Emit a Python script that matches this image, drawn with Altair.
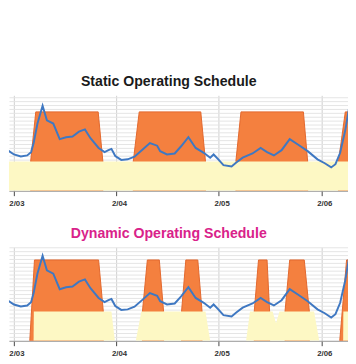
import altair as alt
import pandas as pd

BASE = pd.Timestamp("2011-02-03 00:00")

# Blue load line: hours after 2/03 00:00 and height
line_hours = [-2.9, -1.4, 0.1, 1.7, 3.2, 4.1, 4.7, 5.6, 6.8, 7.8, 9.3, 10.8, 12.3, 13.8, 15.3,
              16.7, 18.0, 19.9, 21.3, 22.2, 22.9, 23.8, 25.2, 26.7, 28.3, 30.2, 31.9, 33.6, 34.3,
              35.9, 37.7, 39.2, 40.9, 42.6, 44.5, 46.0, 46.8, 47.9, 49.1, 51.0, 52.1, 53.6, 55.9,
              57.8, 59.3, 60.9, 62.7, 64.6, 66.6, 68.8, 71.1, 72.8, 74.3, 75.3, 76.4, 77.6, 78.6]
line_values = [49, 41.7, 37.3, 35.3, 36.3, 39.7, 49, 69, 87.3, 72.3, 69, 53, 55, 55.7, 60.7,
               63, 54, 44, 39.7, 41.7, 43, 35.7, 31.7, 32.3, 35, 42.3, 49, 46.3, 40.7,
               37.3, 38.3, 45.7, 55, 44, 39, 34, 37.3, 32.3, 26.3, 25, 29, 34, 38.3,
               44, 39.7, 36.3, 41.7, 53, 47.3, 40.7, 32.3, 28.3, 24, 27.3, 39, 62.3, 88]

# Static schedule
static_orange_block = [1, 1, 1, 1, 2, 2, 2, 2, 3, 3, 3, 3, 4, 4, 4]
static_orange_hours = [4.0, 5.2, 19.8, 20.9, 28.0, 29.4, 43.8, 44.9, 52.0, 53.2, 67.8, 68.8, 76.0, 77.6, 80.0]
static_orange_top = [30, 81, 81, 30, 30, 81, 81, 30, 30, 81, 81, 30, 30, 81, 81]
static_yellow_block = [1, 1]
static_yellow_hours = [-3.0, 80.0]
static_yellow_top = [30, 30]

# Dynamic schedule
dyn_orange_block = [1, 1, 1, 1, 2, 2, 2, 2, 3, 3, 3, 3, 4, 4, 4, 4, 5, 5, 5, 5, 6, 6, 6]
dyn_orange_hours = [3.8, 4.9, 19.9, 21.0, 30.15, 31.3, 34.1, 35.1, 39.3, 40.3, 43.1, 44.1,
                    56.3, 57.3, 59.3, 59.9, 63.5, 64.6, 68.0, 69.2, 76.3, 77.9, 80.0]
dyn_orange_top = [0, 83, 83, 30, 30, 83, 83, 30, 30, 83, 83, 30,
                  30, 83, 83, 30, 30, 83, 83, 30, 0, 83, 83]
dyn_yellow_block = [1, 1, 1, 2, 2, 2, 2, 3, 3, 3, 3, 4, 4, 4, 4, 4, 4, 4, 5, 5, 5]
dyn_yellow_hours = [-3.0, -1.8, -1.4, 4.69, 4.75, 22.9, 23.7, 28.6, 29.9, 44.9, 46.0,
                    54.4, 55.3, 60.6, 61.4, 62.2, 70.3, 71.5, 77.1, 77.15, 80.0]
dyn_yellow_top = [30, 30, 0, 0, 30, 30, 0, 0, 30, 30, 0,
                  0, 30, 30, 18, 30, 30, 0, 0, 30, 30]

day_ticks = [3, 4, 5, 6]


def ts(hours):
    return [BASE + pd.Timedelta(hours=h) for h in hours]


line_df = pd.DataFrame({"t": ts(line_hours), "v": line_values})
s_orange = pd.DataFrame({"t": ts(static_orange_hours), "v": static_orange_top, "block": static_orange_block})
s_yellow = pd.DataFrame({"t": ts(static_yellow_hours), "v": static_yellow_top, "block": static_yellow_block})
d_orange = pd.DataFrame({"t": ts(dyn_orange_hours), "v": dyn_orange_top, "block": dyn_orange_block})
d_yellow = pd.DataFrame({"t": ts(dyn_yellow_hours), "v": dyn_yellow_top, "block": dyn_yellow_block})

xdomain = [alt.DateTime(year=2011, month=2, date=2, hours=22, minutes=56),
           alt.DateTime(year=2011, month=2, date=6, hours=6, minutes=14)]

ORANGE = "#f4803f"
ORANGE_EDGE = "#e2672c"
YELLOW = "#fdf8c4"
BLUE = "#3f78c2"


def panel(orange_df, yellow_df, title, tcolor, height):
    X = alt.X("t:T", scale=alt.Scale(domain=xdomain), title=None,
              axis=alt.Axis(values=[alt.DateTime(year=2011, month=2, date=d) for d in day_ticks],
                            format="%-m/%d", grid=True, gridColor="#cfcfcf", gridWidth=1,
                            domainColor="#9a9a9a", tickColor="#444", tickSize=5,
                            labelFontSize=8, labelColor="#333", labelFont="Liberation Sans",
                            labelPadding=4, labelOffset=3, labelFontWeight="bold"))
    Y = alt.Y("v:Q", scale=alt.Scale(domain=[0, height], nice=False, zero=True), title=None,
              stack=None,
              axis=alt.Axis(values=list(range(0, height + 1, 4)), labels=False, ticks=False,
                            domain=False, grid=True, gridColor="#e4e4e4", gridWidth=1))
    orange = alt.Chart(orange_df).mark_area(color=ORANGE, stroke=ORANGE_EDGE, strokeWidth=1,
                                            clip=True).encode(x=X, y=Y, detail="block:N")
    yellow = alt.Chart(yellow_df).mark_area(color=YELLOW, clip=True).encode(x=X, y=Y, detail="block:N")
    line = alt.Chart(line_df).mark_line(color=BLUE, strokeWidth=2, clip=True).encode(x=X, y=Y)
    return alt.layer(orange, yellow, line).properties(
        width=348, height=height,
        title=alt.TitleParams(title, color=tcolor, fontSize=14.5, fontWeight="bold",
                              font="Liberation Sans", anchor="middle", dx=-10, offset=6))


top = panel(s_orange, s_yellow, "Static Operating Schedule", "#1a1a1a", 98)
bottom = panel(d_orange, d_yellow, "Dynamic Operating Schedule", "#d9228a", 96)

chart = alt.vconcat(top, bottom, spacing=19).properties(
    padding={"top": 63, "left": 0, "right": 0, "bottom": -4},
    background="white",
).configure_view(stroke=None)

chart.save("out.html", embed_options={"renderer": "svg", "actions": False})
